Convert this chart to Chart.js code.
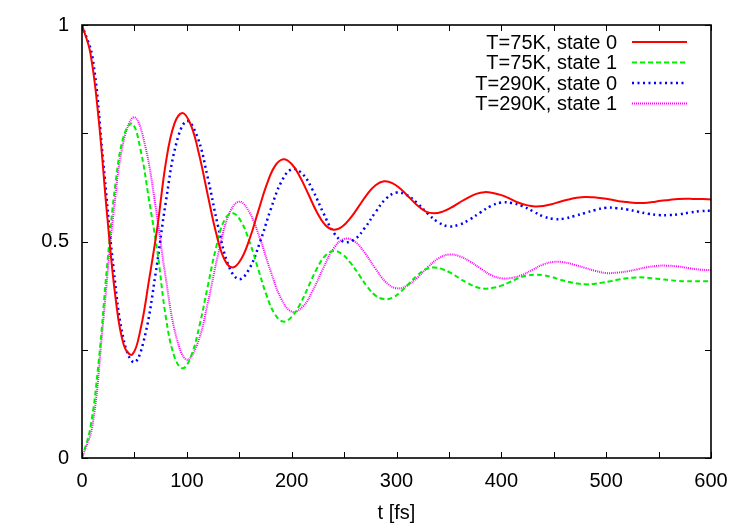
<!DOCTYPE html>
<html>
<head>
<meta charset="utf-8">
<script src="https://cdn.jsdelivr.net/npm/chart.js@4"></script>
<style>
html,body{margin:0;padding:0;background:#fff;}
#wrap{width:750px;height:525px;}
</style>
</head>
<body>
<div id="wrap"><canvas id="c" width="750" height="525"></canvas></div>
<script>
// time samples (fs)
const tA = [0,8,16,24,32,40,48,56,64,72,80,88,96,104,112,120,128,136,144,152,160,168,176,184,192,200,208,216,224,232,240,248,256,264,272,280,288,296,304,312,320,328,336,344,352,360,368,376,384,392,400,408,416,424,432,440,448,456,464,472,480,488,496,504,512,520,528,536,544,552,560,568,576,584,592,600];
const tB = [0,10,20,30,40,50,60,70,80,90,100,110,120,130,140,150,160,170,180,190,200,210,220,230,240,250,260,270,280,290,300,310,320,330,340,350,360,370,380,390,400,410,420,430,440,450,460,470,480,490,500,510,520,530,540,550,560,570,580,590,600];

// T=75K, state 0
const red75s0 = [1.0,0.935,0.78,0.56,0.37,0.26,0.239,0.299,0.412,0.535,0.682,0.771,0.797,0.768,0.698,0.607,0.519,0.458,0.44,0.46,0.507,0.569,0.63,0.674,0.69,0.679,0.649,0.609,0.568,0.538,0.527,0.534,0.554,0.581,0.609,0.63,0.639,0.635,0.621,0.602,0.583,0.569,0.565,0.569,0.578,0.59,0.601,0.61,0.614,0.612,0.607,0.599,0.59,0.584,0.581,0.582,0.586,0.592,0.597,0.601,0.603,0.602,0.6,0.597,0.593,0.591,0.589,0.589,0.591,0.594,0.596,0.598,0.599,0.598,0.598,0.597];
// T=75K, state 1
const green75s1 = [0.0,0.07,0.225,0.445,0.635,0.745,0.772,0.71,0.595,0.475,0.325,0.235,0.207,0.235,0.305,0.397,0.487,0.55,0.565,0.545,0.498,0.437,0.376,0.332,0.315,0.326,0.355,0.396,0.437,0.467,0.478,0.471,0.451,0.424,0.396,0.375,0.367,0.37,0.384,0.403,0.422,0.436,0.44,0.436,0.427,0.415,0.404,0.395,0.391,0.393,0.398,0.406,0.415,0.421,0.423,0.422,0.418,0.412,0.407,0.403,0.401,0.402,0.405,0.408,0.412,0.415,0.417,0.417,0.415,0.413,0.411,0.409,0.408,0.408,0.408,0.408];
// T=290K, state 0
const blue290s0 = [1.0,0.925,0.69,0.44,0.27,0.221,0.282,0.423,0.592,0.727,0.778,0.742,0.647,0.533,0.443,0.413,0.439,0.5,0.574,0.637,0.667,0.657,0.619,0.567,0.521,0.499,0.505,0.532,0.568,0.599,0.613,0.607,0.588,0.564,0.544,0.535,0.539,0.551,0.567,0.582,0.59,0.589,0.582,0.57,0.558,0.552,0.553,0.559,0.566,0.573,0.578,0.577,0.574,0.569,0.564,0.561,0.561,0.563,0.567,0.57,0.571];
// T=290K, state 1
const mag290s1 = [0.0,0.075,0.31,0.565,0.735,0.787,0.724,0.583,0.414,0.279,0.227,0.263,0.358,0.472,0.562,0.592,0.566,0.505,0.431,0.368,0.338,0.348,0.386,0.438,0.484,0.506,0.5,0.473,0.437,0.406,0.392,0.398,0.417,0.441,0.461,0.47,0.466,0.454,0.438,0.423,0.415,0.416,0.423,0.435,0.447,0.453,0.452,0.446,0.439,0.432,0.427,0.428,0.431,0.436,0.441,0.444,0.444,0.442,0.438,0.435,0.434];

const seriesLabels = ['T=75K, state 0','T=75K, state 1','T=290K, state 0','T=290K, state 1'];
const xTickMarks = [0,50,100,150,200,250,300,350,400,450,500,550,600];
const yTickMarks = [0,0.25,0.5,0.75,1];

const FONT = '"Liberation Sans", Arial, Helvetica, sans-serif';

function pts(t, v){ return t.map((x,i)=>({x:x, y:v[i]})); }

const framePlugin = {
  id: 'frame',
  afterDatasetsDraw(chart){
    const ctx = chart.ctx;
    const {left,right,top,bottom} = chart.chartArea;
    const xs = chart.scales.x, ys = chart.scales.y;
    ctx.save();
    ctx.strokeStyle = '#000';
    ctx.lineWidth = 1;
    ctx.beginPath();
    for (const v of xTickMarks){
      const px = Math.round(xs.getPixelForValue(v)) + 0.5;
      ctx.moveTo(px, bottom); ctx.lineTo(px, bottom - 6);
      ctx.moveTo(px, top); ctx.lineTo(px, top + 6);
    }
    for (const v of yTickMarks){
      const py = Math.round(ys.getPixelForValue(v)) + 0.5;
      ctx.moveTo(left, py); ctx.lineTo(left + 6, py);
      ctx.moveTo(right, py); ctx.lineTo(right - 6, py);
    }
    ctx.stroke();
    ctx.lineWidth = 1.6;
    ctx.strokeRect(left, top, right - left, bottom - top);
    // legend
    ctx.font = '20px ' + FONT;
    ctx.fillStyle = '#000';
    ctx.textAlign = 'right';
    ctx.textBaseline = 'middle';
    const rows = [42, 62.5, 83, 103.5];
    chart.data.datasets.forEach((ds, i) => {
      const y = rows[i];
      ctx.fillText(ds.label, 617, y + 1);
      ctx.save();
      ctx.strokeStyle = ds.borderColor;
      ctx.lineWidth = ds.borderWidth;
      ctx.setLineDash(ds.borderDash || []);
      ctx.beginPath();
      ctx.moveTo(632, y); ctx.lineTo(687, y);
      ctx.stroke();
      ctx.restore();
    });
    ctx.restore();
  }
};

new Chart(document.getElementById('c'), {
  type: 'line',
  data: {
    datasets: [
      {label: seriesLabels[0], data: pts(tA, red75s0), borderColor: '#ff0000', borderWidth: 2, borderDash: []},
      {label: seriesLabels[1], data: pts(tA, green75s1), borderColor: '#00ee00', borderWidth: 2, borderDash: [5,3]},
      {label: seriesLabels[2], data: pts(tB, blue290s0), borderColor: '#0000ff', borderWidth: 2.5, borderDash: [2,3.5]},
      {label: seriesLabels[3], data: pts(tB, mag290s1), borderColor: '#ff00ff', borderWidth: 2, borderDash: [1,1]}
    ]
  },
  options: {
    responsive: false,
    animation: false,
    layout: {padding: {left: 0, top: 25, right: 39, bottom: 0}},
    elements: {point: {radius: 0}, line: {tension: 0.4, fill: false}},
    plugins: {legend: {display: false}, tooltip: {enabled: false}},
    scales: {
      x: {
        type: 'linear', min: 0, max: 600,
        grid: {display: false, drawTicks: false},
        border: {display: false},
        ticks: {stepSize: 100, color: '#000', font: {size: 20, family: FONT}, padding: 11, maxRotation: 0},
        title: {display: true, text: 't [fs]', color: '#000', font: {size: 20, family: FONT}, padding: {top: 6, bottom: 0}},
        afterFit(s){ s.height = 67; }
      },
      y: {
        type: 'linear', min: 0, max: 1,
        grid: {display: false, drawTicks: false},
        border: {display: false},
        ticks: {stepSize: 0.5, color: '#000', font: {size: 20, family: FONT}, padding: 13, callback: (v) => String(v)},
        afterFit(s){ s.width = 82; }
      }
    }
  },
  plugins: [framePlugin]
});
</script>
</body>
</html>
